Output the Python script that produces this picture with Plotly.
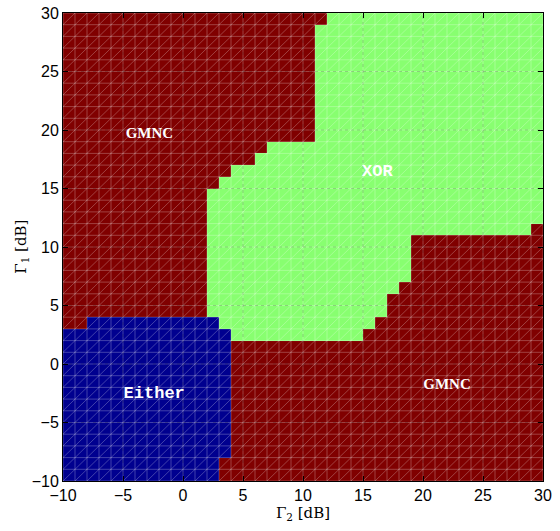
import numpy as np
import plotly.graph_objects as go

# ---- data ----------------------------------------------------------------
# Gamma_2 cell edges (dB) and Gamma_1 cell edges (dB)
gamma2_edges = list(range(-10, 31))
gamma1_edges = list(range(-10, 31))

# per Gamma_2 cell column [x, x+1]: y-range of the "Either" and "XOR" regions
# (None -> region absent in that column). Everything else is "GMNC".
col_x = list(range(-10, 30))
either_lo = [-10, -10] + [-10] * 10 + [-10, -8] + [None] * 26
either_hi = [3, 3] + [4] * 10 + [4, 3] + [None] * 26
xor_lo = [None] * 12 + [4, 3, 2, 2, 2, 2, 2, 2, 2, 2, 2, 2, 2, 3, 4, 6, 7] + [11] * 10 + [12]
xor_hi = [None] * 12 + [15, 16, 17, 17, 18, 19, 19, 19, 19, 29, 30, 30, 30, 30, 30, 30, 30] + [30] * 10 + [30]

region_names = ["Either", "XOR", "GMNC"]
label_text = ["GMNC", "GMNC"]
label_x = [-2.8, 22.0]
label_y = [19.6, -1.8]
mono_text = ["XOR", "Either"]
mono_x = [16.2, -2.4]
mono_y = [16.4, -2.5]
xticks = [-10, -5, 0, 5, 10, 15, 20, 25, 30]
yticks = [-10, -5, 0, 5, 10, 15, 20, 25, 30]

# ---- build region map ----------------------------------------------------
ny, nx = len(gamma1_edges) - 1, len(gamma2_edges) - 1
ycent = np.array(gamma1_edges[:-1]) + 0.5
z = np.full((ny, nx), 2, dtype=float)
for j in range(nx):
    if either_lo[j] is not None:
        m = (ycent > either_lo[j]) & (ycent < either_hi[j])
        z[m, j] = 0
    if xor_lo[j] is not None:
        m = (ycent > xor_lo[j]) & (ycent < xor_hi[j])
        z[m, j] = 1

BLUE = "rgb(0,0,143)"
GREEN = "rgb(136,255,112)"
RED = "rgb(128,0,0)"

fig = go.Figure()
fig.add_trace(go.Heatmap(
    x=gamma2_edges, y=gamma1_edges, z=z,
    zmin=0, zmax=2,
    colorscale=[[0, BLUE], [0.5, GREEN], [1, RED]],
    showscale=False, hoverinfo="skip",
))

# surface mesh (white, semi transparent): horizontal, vertical, diagonal
x0, x1 = gamma2_edges[0], gamma2_edges[-1]
y0, y1 = gamma1_edges[0], gamma1_edges[-1]
mx, my = [], []
for v in gamma1_edges:
    mx += [x0, x1, None]; my += [v, v, None]
for v in gamma2_edges:
    mx += [v, v, None]; my += [y0, y1, None]
for c in range(-(x1 - x0), (x1 - x0) + 1):
    xa = max(x0, y0 - c); xb = min(x1, y1 - c)
    if xb > xa:
        mx += [xa, xb, None]; my += [xa + c, xb + c, None]
fig.add_trace(go.Scatter(x=mx, y=my, mode="lines",
                         line=dict(color="rgba(255,255,255,0.25)", width=1),
                         hoverinfo="skip", showlegend=False))

# dotted major grid
gx, gy = [], []
for v in xticks[1:-1]:
    gx += [v, v, None]; gy += [y0, y1, None]
for v in yticks[1:-1]:
    gx += [x0, x1, None]; gy += [v, v, None]
fig.add_trace(go.Scatter(x=gx, y=gy, mode="lines",
                         line=dict(color="rgba(0,0,0,0.18)", width=1, dash="dot"),
                         hoverinfo="skip", showlegend=False))

# region labels
fig.add_trace(go.Scatter(x=label_x, y=label_y, text=label_text, mode="text",
                         textposition="middle center",
                         textfont=dict(family="Liberation Serif", size=15,
                                       color="white", weight="bold"),
                         hoverinfo="skip", showlegend=False))
fig.add_trace(go.Scatter(x=mono_x, y=mono_y, text=mono_text, mode="text",
                         textposition="middle center",
                         textfont=dict(family="Liberation Mono", size=17,
                                       color="white", weight="bold"),
                         hoverinfo="skip", showlegend=False))

axis_common = dict(
    showgrid=False, zeroline=False, automargin=False,
    showline=True, linecolor="black", linewidth=1, mirror="ticks",
    ticks="inside", ticklen=5, tickcolor="black",
    tickfont=dict(family="Liberation Sans", size=16, color="black"),
)
fig.update_xaxes(range=[x0, x1], tickvals=xticks, **axis_common,
                 title=dict(text="Γ<sub>2</sub> [dB]", standoff=4,
                            font=dict(family="DejaVu Serif", size=15, color="black")))
fig.update_yaxes(range=[y0, y1], tickvals=yticks, **axis_common)

fig.add_annotation(xref="paper", yref="paper", x=-0.088, y=0.5,
                   xanchor="center", yanchor="middle", textangle=-90,
                   text="Γ<sub>1</sub> [dB]", showarrow=False,
                   font=dict(family="DejaVu Serif", size=15, color="black"))

fig.update_layout(
    width=560, height=531,
    margin=dict(l=63, r=17, t=13, b=50),
    paper_bgcolor="white", plot_bgcolor="white",
    showlegend=False,
)
fig.write_html("out.html")
